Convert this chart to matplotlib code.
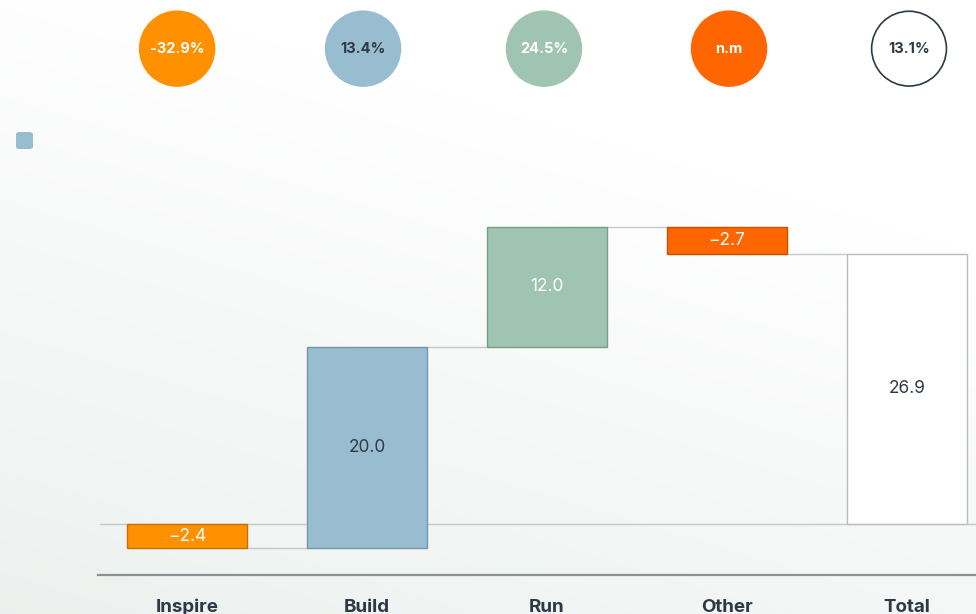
import numpy as np
import matplotlib.pyplot as plt
from matplotlib.patches import FancyBboxPatch

plt.rcParams["font.family"] = ["Inter", "DejaVu Sans"]

categories = ["Inspire", "Build", "Run", "Other", "Total"]
deltas = [-2.4, 20.0, 12.0, -2.7, 26.9]
is_total = [False, False, False, False, True]
growth = ["-32.9%", "13.4%", "24.5%", "n.m", "13.1%"]

fill_colors = ["#FF9100", "#98BDD1", "#A0C4B2", "#FF6600", "#FFFFFF"]
edge_colors = ["#C87000", "#7595A8", "#779C89", "#C85200", "#B8BCBE"]
value_text = ["white", "#2D3A45", "white", "white", "#2D3A45"]
circle_fill = ["#FF9100", "#98BDD1", "#A0C4B2", "#FF6600", "#FFFFFF"]
circle_text = ["white", "#2D3A45", "white", "white", "#2D3A45"]
circle_edge = ["#FF9100", "#98BDD1", "#A0C4B2", "#FF6600", "#2D3A45"]

W, H = 976, 614
fig = plt.figure(figsize=(W / 100, H / 100), dpi=100)

# soft background wash, lighter towards the top right
bg = fig.add_axes([0, 0, 1, 1])
yy, xx = np.mgrid[0:H, 0:W]
t = np.clip((yy - 90) / 520 * 0.8 + (1 - xx / W) * 0.45 - 0.25, 0, 1)
white = np.array([1.0, 1.0, 1.0])
tint = np.array([0.925, 0.945, 0.935])
img = white * (1 - t[..., None]) + tint * t[..., None]
bg.imshow(img, extent=[0, W, H, 0], aspect="auto")
bg.set_axis_off()

ax = fig.add_axes([0, 0, 1, 1])
ax.patch.set_alpha(0)
ax.set_xlim(-1.039, 4.383)
ax.set_ylim(-8.955, 52.14)
ax.set_axis_off()

x = np.arange(len(categories))
width = 0.667

bottoms, tops = [], []
running = 0.0
for d, tot in zip(deltas, is_total):
    if tot:
        b, tp = 0.0, d
    else:
        b, tp = running, running + d
        running += d
    bottoms.append(min(b, tp))
    tops.append(max(b, tp))

heights = [tp - b for b, tp in zip(bottoms, tops)]
ax.bar(x, heights, bottom=bottoms, width=width, color=fill_colors,
       edgecolor=edge_colors, linewidth=1, zorder=3)

# zero line
ax.axhline(0, xmin=100 / W, xmax=1, color="#C4C8CA", linewidth=1, zorder=1)

# connectors between consecutive bars
levels = np.cumsum(deltas[:-1])
for i, lv in enumerate(levels):
    ax.plot([x[i] + width / 2, x[i + 1] - width / 2], [lv, lv],
            color="#C4C8CA", linewidth=1, zorder=2)

# value labels
for i, d in enumerate(deltas):
    mid = (bottoms[i] + tops[i]) / 2
    ax.text(x[i], mid, f"{d:.1f}".replace("-", "\u2212"), ha="center", va="center",
            fontsize=12.5, color=value_text[i], zorder=4)

# category axis
ax.axhline(-5.07, xmin=98 / W, xmax=1, color="#8A9298", linewidth=1.6)
for i, c in enumerate(categories):
    ax.text(x[i], -8.3, c, ha="center", va="center", fontsize=13.5,
            fontweight="bold", color="#2D3A45")

# growth badges
cy = 47.3
offsets = [-0.055, -0.022, -0.017, 0.011, 0.011]
ax.scatter(x + np.array(offsets), [cy] * len(x), s=2900, c=circle_fill,
           edgecolors=circle_edge, linewidths=1.2, zorder=3, clip_on=False)
for i, g in enumerate(growth):
    ax.text(x[i] + offsets[i], cy, g, ha="center", va="center", fontsize=10.5,
            fontweight="bold", color=circle_text[i], zorder=4)

# legend swatch
fig.patches.append(FancyBboxPatch((16 / W, 1 - 149 / H), 17 / W, 17 / H,
                                  boxstyle="round,pad=0,rounding_size=0.004",
                                  transform=fig.transFigure, facecolor="#98BDD1",
                                  edgecolor="none"))

fig.savefig("out.png", dpi=100)
